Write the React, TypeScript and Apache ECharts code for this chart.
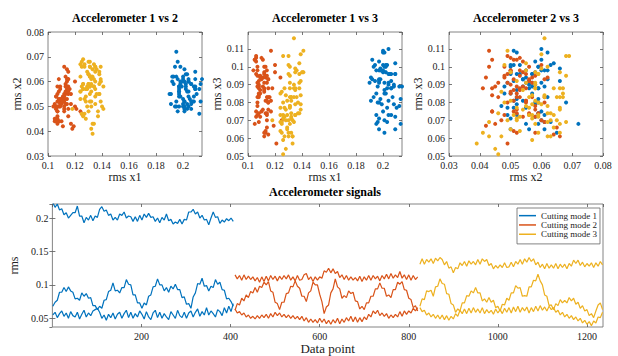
import React, { useEffect, useRef } from "react";
import * as echarts from "echarts";

const SERIF = '"Liberation Serif", "DejaVu Serif", serif';
const MODES = ["Cutting mode 1", "Cutting mode 2", "Cutting mode 3"];
const COLORS = ["#0072BD", "#D95319", "#EDB120"];
const MODE_START = [1, 410, 825];
const STEP = 5;

// ---- Mode 1 (data points 1..406, every 5th) ----
const mode1_x1 = [
  0.223, 0.216, 0.221, 0.212, 0.214, 0.205, 0.208, 0.200, 0.204, 0.208,
  0.208, 0.218, 0.203, 0.203, 0.193, 0.201, 0.197, 0.204, 0.196, 0.203,
  0.201, 0.213, 0.217, 0.210, 0.212, 0.204, 0.206, 0.197, 0.201, 0.197,
  0.206, 0.204, 0.209, 0.200, 0.203, 0.202, 0.195, 0.202, 0.195, 0.204,
  0.197, 0.206, 0.201, 0.207, 0.201, 0.202, 0.195, 0.200, 0.193, 0.201,
  0.197, 0.206, 0.196, 0.198, 0.191, 0.194, 0.192, 0.198, 0.191, 0.198,
  0.197, 0.209, 0.209, 0.213, 0.206, 0.209, 0.200, 0.204, 0.197, 0.198,
  0.190, 0.200, 0.209, 0.201, 0.202, 0.192, 0.197, 0.194, 0.199, 0.196,
  0.200, 0.195,
];
const mode1_x2 = [
  0.055, 0.059, 0.051, 0.057, 0.061, 0.053, 0.058, 0.050, 0.060, 0.054,
  0.052, 0.059, 0.049, 0.056, 0.062, 0.052, 0.058, 0.054, 0.061, 0.063,
  0.065, 0.059, 0.050, 0.055, 0.047, 0.056, 0.051, 0.058, 0.049, 0.056,
  0.059, 0.050, 0.057, 0.062, 0.051, 0.059, 0.050, 0.057, 0.052, 0.061,
  0.056, 0.049, 0.060, 0.052, 0.048, 0.058, 0.062, 0.051, 0.059, 0.050,
  0.057, 0.052, 0.048, 0.060, 0.055, 0.050, 0.062, 0.054, 0.051, 0.059,
  0.050, 0.058, 0.061, 0.052, 0.059, 0.064, 0.053, 0.060, 0.055, 0.066,
  0.055, 0.061, 0.057, 0.052, 0.063, 0.060, 0.054, 0.066, 0.058, 0.068,
  0.060, 0.072,
];
const mode1_x3 = [
  0.068, 0.074, 0.077, 0.089, 0.089, 0.096, 0.090, 0.097, 0.091, 0.089,
  0.079, 0.080, 0.077, 0.088, 0.083, 0.087, 0.080, 0.081, 0.069, 0.069,
  0.063, 0.068, 0.065, 0.077, 0.078, 0.090, 0.092, 0.103, 0.091, 0.092,
  0.088, 0.096, 0.096, 0.108, 0.101, 0.100, 0.085, 0.085, 0.073, 0.073,
  0.065, 0.073, 0.070, 0.083, 0.085, 0.097, 0.098, 0.109, 0.100, 0.100,
  0.091, 0.096, 0.089, 0.098, 0.094, 0.101, 0.093, 0.093, 0.081, 0.082,
  0.071, 0.072, 0.065, 0.082, 0.088, 0.102, 0.101, 0.110, 0.098, 0.099,
  0.091, 0.098, 0.096, 0.108, 0.101, 0.104, 0.093, 0.092, 0.079, 0.080,
  0.075, 0.068,
];

// ---- Mode 2 (data points 410..820, every 5th) ----
const mode2_x1 = [
  0.115, 0.109, 0.114, 0.107, 0.115, 0.108, 0.113, 0.108, 0.112, 0.106,
  0.111, 0.104, 0.112, 0.105, 0.113, 0.106, 0.114, 0.108, 0.113, 0.106,
  0.113, 0.108, 0.114, 0.109, 0.115, 0.107, 0.112, 0.106, 0.114, 0.107,
  0.108, 0.115, 0.117, 0.108, 0.112, 0.105, 0.112, 0.107, 0.112, 0.110,
  0.121, 0.119, 0.125, 0.118, 0.124, 0.117, 0.120, 0.111, 0.115, 0.108,
  0.114, 0.107, 0.112, 0.107, 0.111, 0.106, 0.113, 0.105, 0.112, 0.107,
  0.114, 0.107, 0.114, 0.109, 0.113, 0.106, 0.114, 0.109, 0.116, 0.109,
  0.117, 0.110, 0.115, 0.111, 0.120, 0.110, 0.115, 0.108, 0.115, 0.107,
  0.114, 0.108, 0.112,
];
const mode2_x2 = [
  0.064, 0.058, 0.060, 0.055, 0.058, 0.052, 0.055, 0.050, 0.053, 0.049,
  0.054, 0.050, 0.055, 0.051, 0.056, 0.050, 0.057, 0.052, 0.059, 0.054,
  0.058, 0.052, 0.056, 0.051, 0.055, 0.050, 0.054, 0.049, 0.053, 0.048,
  0.053, 0.046, 0.051, 0.044, 0.049, 0.044, 0.048, 0.043, 0.050, 0.044,
  0.049, 0.042, 0.047, 0.041, 0.048, 0.043, 0.050, 0.042, 0.049, 0.044,
  0.051, 0.046, 0.053, 0.045, 0.052, 0.044, 0.051, 0.045, 0.052, 0.048,
  0.056, 0.052, 0.061, 0.057, 0.062, 0.054, 0.058, 0.053, 0.057, 0.050,
  0.055, 0.051, 0.056, 0.052, 0.060, 0.053, 0.061, 0.056, 0.061, 0.058,
  0.065, 0.061, 0.066,
];
const mode2_x3 = [
  0.062, 0.072, 0.070, 0.080, 0.076, 0.085, 0.081, 0.090, 0.088, 0.096,
  0.089, 0.098, 0.096, 0.104, 0.100, 0.105, 0.091, 0.089, 0.074, 0.072,
  0.063, 0.074, 0.074, 0.087, 0.088, 0.098, 0.097, 0.106, 0.098, 0.095,
  0.083, 0.083, 0.075, 0.088, 0.091, 0.104, 0.100, 0.100, 0.086, 0.075,
  0.057, 0.067, 0.070, 0.088, 0.094, 0.109, 0.097, 0.094, 0.080, 0.084,
  0.081, 0.091, 0.087, 0.089, 0.076, 0.075, 0.064, 0.068, 0.063, 0.073,
  0.073, 0.083, 0.083, 0.094, 0.094, 0.103, 0.095, 0.095, 0.083, 0.085,
  0.081, 0.093, 0.093, 0.104, 0.101, 0.105, 0.093, 0.092, 0.080, 0.078,
  0.066, 0.069, 0.061,
];

// ---- Mode 3 (data points 825..1235, every 5th) ----
const mode3_x1 = [
  0.131, 0.139, 0.131, 0.138, 0.134, 0.139, 0.132, 0.140, 0.136, 0.141,
  0.138, 0.130, 0.135, 0.125, 0.127, 0.118, 0.126, 0.124, 0.133, 0.129,
  0.135, 0.128, 0.136, 0.131, 0.135, 0.130, 0.138, 0.131, 0.139, 0.135,
  0.138, 0.129, 0.132, 0.124, 0.129, 0.125, 0.130, 0.126, 0.133, 0.126,
  0.127, 0.134, 0.127, 0.135, 0.131, 0.138, 0.131, 0.139, 0.134, 0.141,
  0.135, 0.139, 0.130, 0.134, 0.126, 0.131, 0.124, 0.132, 0.125, 0.130,
  0.125, 0.132, 0.124, 0.131, 0.126, 0.131, 0.124, 0.132, 0.128, 0.137,
  0.132, 0.137, 0.129, 0.134, 0.127, 0.132, 0.128, 0.133, 0.126, 0.133,
  0.128, 0.135, 0.130,
];
const mode3_x2 = [
  0.066, 0.060, 0.062, 0.055, 0.058, 0.052, 0.056, 0.050, 0.055, 0.049,
  0.055, 0.048, 0.054, 0.047, 0.053, 0.049, 0.057, 0.053, 0.062, 0.057,
  0.064, 0.057, 0.065, 0.058, 0.066, 0.059, 0.064, 0.058, 0.066, 0.057,
  0.063, 0.058, 0.062, 0.056, 0.064, 0.058, 0.063, 0.057, 0.065, 0.059,
  0.066, 0.058, 0.067, 0.060, 0.068, 0.059, 0.066, 0.061, 0.067, 0.058,
  0.066, 0.060, 0.068, 0.061, 0.069, 0.062, 0.067, 0.061, 0.068, 0.063,
  0.066, 0.059, 0.062, 0.055, 0.059, 0.052, 0.056, 0.050, 0.054, 0.048,
  0.052, 0.046, 0.050, 0.043, 0.047, 0.041, 0.045, 0.039, 0.046, 0.043,
  0.052, 0.051, 0.059,
];
const mode3_x3 = [
  0.068, 0.079, 0.078, 0.091, 0.090, 0.092, 0.083, 0.097, 0.098, 0.109,
  0.102, 0.101, 0.087, 0.086, 0.072, 0.070, 0.059, 0.064, 0.061, 0.073,
  0.073, 0.084, 0.083, 0.091, 0.088, 0.096, 0.088, 0.088, 0.076, 0.079,
  0.074, 0.081, 0.074, 0.077, 0.066, 0.068, 0.061, 0.071, 0.070, 0.080,
  0.077, 0.088, 0.088, 0.099, 0.095, 0.096, 0.083, 0.084, 0.083, 0.097,
  0.097, 0.107, 0.106, 0.116, 0.106, 0.100, 0.085, 0.083, 0.069, 0.070,
  0.063, 0.072, 0.069, 0.078, 0.073, 0.077, 0.073, 0.081, 0.076, 0.080,
  0.071, 0.074, 0.065, 0.069, 0.061, 0.063, 0.054, 0.057, 0.051, 0.061,
  0.070, 0.073, 0.063,
];

const X1 = [mode1_x1, mode2_x1, mode3_x1];
const X2 = [mode1_x2, mode2_x2, mode3_x2];
const X3 = [mode1_x3, mode2_x3, mode3_x3];

const GRIDS = [
  { left: 48, top: 32, width: 154, height: 124 },
  { left: 248, top: 32, width: 154, height: 124 },
  { left: 449, top: 32, width: 154, height: 124 },
  { left: 47, top: 204, width: 556, height: 124 },
];

const fmt = (v: number) => String(parseFloat(v.toFixed(4)));

const tickStyle = { inside: true, length: 3, lineStyle: { color: "#555", width: 0.8 } };

function labelStyle(extra: any = {}) {
  return { color: "#222", fontSize: 10, fontFamily: SERIF, margin: 4, formatter: fmt, ...extra };
}

function mainAxis(extra: any) {
  return {
    type: "value",
    axisLine: { show: false },
    axisTick: tickStyle,
    splitLine: { show: false },
    axisLabel: labelStyle(),
    nameLocation: "middle",
    nameTextStyle: { color: "#222", fontSize: 12, fontFamily: SERIF },
    ...extra,
  };
}
function mirrorAxis(extra: any) {
  return {
    type: "value",
    axisLine: { show: false },
    axisTick: tickStyle,
    splitLine: { show: false },
    axisLabel: { show: false },
    ...extra,
  };
}

const X_RANGES = [
  { min: 0.1, max: 0.214, interval: 0.02 },
  { min: 0.1, max: 0.214, interval: 0.02 },
  { min: 0.03, max: 0.08, interval: 0.01 },
  { min: 0, max: 1236, interval: 200 },
];
const Y_RANGES = [
  { min: 0.03, max: 0.08, interval: 0.01 },
  { min: 0.05, max: 0.1195, interval: 0.01 },
  { min: 0.05, max: 0.1195, interval: 0.01 },
  { min: 0.037, max: 0.221, minInterval: 0.05, maxInterval: 0.05 },
];

export default function App() {
  const ref = useRef<HTMLDivElement>(null);
  useEffect(() => {
    if (!ref.current) return;
    const chart = echarts.init(ref.current, undefined, { renderer: "svg" });

    const xAxis: any[] = [
      mainAxis({ gridIndex: 0, ...X_RANGES[0], name: "rms x1", nameGap: 14, axisLabel: labelStyle({ showMaxLabel: false }) }),
      mainAxis({ gridIndex: 1, ...X_RANGES[1], name: "rms x1", nameGap: 14, axisLabel: labelStyle({ showMaxLabel: false }) }),
      mainAxis({ gridIndex: 2, ...X_RANGES[2], name: "rms x2", nameGap: 14 }),
      mainAxis({
        gridIndex: 3,
        ...X_RANGES[3],
        name: "Data point",
        nameGap: 15,
        nameTextStyle: { color: "#222", fontSize: 13, fontFamily: SERIF },
        axisLabel: labelStyle({ showMinLabel: false, showMaxLabel: false }),
      }),
      ...X_RANGES.map((r, i) => mirrorAxis({ gridIndex: i, position: "top", ...r })),
    ];
    const yAxis: any[] = [
      mainAxis({ gridIndex: 0, ...Y_RANGES[0], name: "rms x2", nameGap: 24 }),
      mainAxis({ gridIndex: 1, ...Y_RANGES[1], name: "rms x3", nameGap: 24, axisLabel: labelStyle({ showMaxLabel: false }) }),
      mainAxis({ gridIndex: 2, ...Y_RANGES[2], name: "rms x3", nameGap: 24, axisLabel: labelStyle({ showMaxLabel: false }) }),
      mainAxis({ gridIndex: 3, ...Y_RANGES[3], name: "rms", nameGap: 25, axisLabel: labelStyle({ showMinLabel: false, showMaxLabel: false }) }),
      ...Y_RANGES.map((r, i) => mirrorAxis({ gridIndex: i, position: "right", ...r })),
    ];

    const series: any[] = [];
    const pairs = [
      [X1, X2],
      [X1, X3],
      [X2, X3],
    ];
    pairs.forEach(([A, B], p) => {
      for (let m = 0; m < 3; m++) {
        series.push({
          type: "scatter",
          name: `scatter-${p}-${m}`,
          xAxisIndex: p,
          yAxisIndex: p,
          symbolSize: 4,
          itemStyle: { color: COLORS[m], opacity: 1 },
          data: A[m].map((v, i) => [v, B[m][i]]),
          clip: true,
        });
      }
    });
    for (let m = 0; m < 3; m++) {
      [X1[m], X3[m], X2[m]].forEach((arr) => {
        series.push({
          type: "line",
          name: MODES[m],
          xAxisIndex: 3,
          yAxisIndex: 3,
          showSymbol: false,
          lineStyle: { color: COLORS[m], width: 1.2 },
          itemStyle: { color: COLORS[m] },
          data: arr.map((v, i) => [MODE_START[m] + STEP * i, v]),
        });
      });
    }

    const titleStyle = (text: string, x: number, y: number) => ({
      type: "text",
      x,
      y,
      style: {
        text,
        align: "center",
        verticalAlign: "middle",
        fontSize: 12,
        fontWeight: "bold",
        fontFamily: SERIF,
        fill: "#000",
      },
    });

    chart.setOption({
      animation: false,
      backgroundColor: "#fff",
      grid: GRIDS.map((g) => ({ ...g, show: true, borderColor: "#666", borderWidth: 0.8, containLabel: false })),
      xAxis,
      yAxis,
      legend: {
        data: MODES,
        orient: "vertical",
        right: 18,
        top: 208,
        icon: "rect",
        itemWidth: 17,
        itemHeight: 1.5,
        itemGap: 0,
        padding: [3, 3, 5, 2],
        backgroundColor: "#fff",
        borderColor: "#666",
        borderWidth: 0.8,
        textStyle: { fontSize: 9, lineHeight: 9.3, fontFamily: SERIF, color: "#222" },
      },
      graphic: [
        titleStyle("Accelerometer 1 vs 2", 125, 18),
        titleStyle("Accelerometer 1 vs 3", 325, 18),
        titleStyle("Accelerometer 2 vs 3", 526, 18),
        titleStyle("Accelerometer signals", 325, 192),
      ],
      series,
    });
    return () => chart.dispose();
  }, []);
  return (
    <div
      ref={ref}
      style={{ position: "fixed", left: 0, top: 0, width: 618, height: 356, background: "#fff" }}
    />
  );
}
